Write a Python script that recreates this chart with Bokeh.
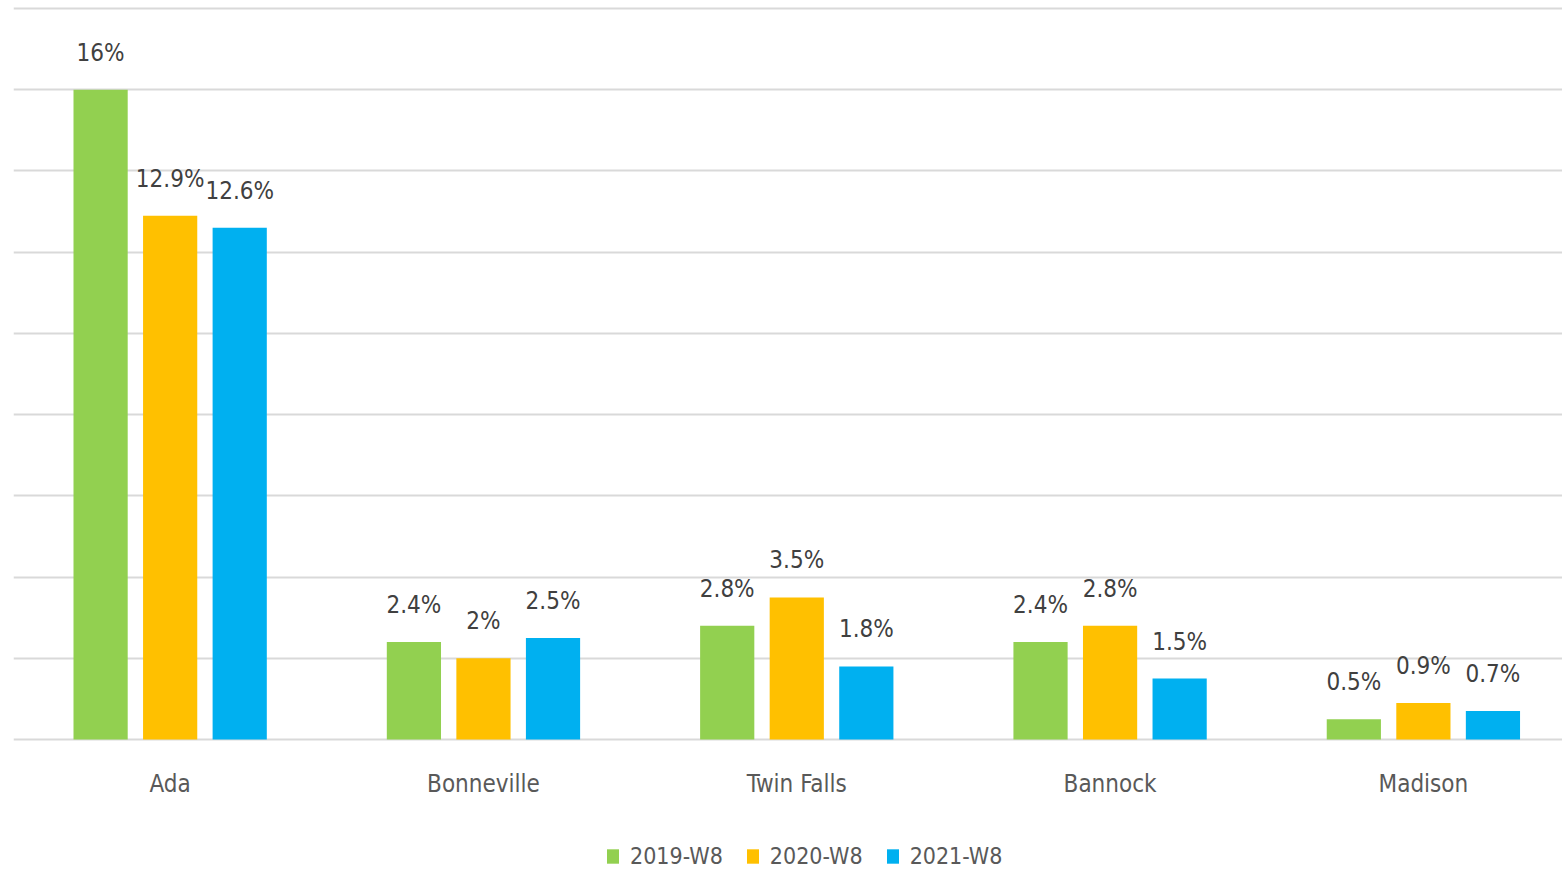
from bokeh.plotting import figure
from bokeh.models import Range1d, FixedTicker, Legend, LegendItem
from bokeh.core.properties import value
from bokeh.embed import file_html
from bokeh.resources import INLINE

counties = ["Ada", "Bonneville", "Twin Falls", "Bannock", "Madison"]
series_names = ["2019-W8", "2020-W8", "2021-W8"]
v2019 = [16, 2.4, 2.8, 2.4, 0.5]
v2020 = [12.9, 2.0, 3.5, 2.8, 0.9]
v2021 = [12.6, 2.5, 1.8, 1.5, 0.7]
grid_ticks = [0, 2, 4, 6, 8, 10, 12, 14, 16, 18]

colors = ["#92D050", "#FFC000", "#00B0F0"]
FONT = "DejaVu Sans Condensed"

# frame extends below the zero line so the category labels and legend sit inside it
p = figure(frame_width=1549, frame_height=863, output_backend="svg", toolbar_location=None,
           x_range=Range1d(0, 4.944), y_range=Range1d(-3.2, 18.05),
           x_axis_location=None, y_axis_location=None,
           min_border_left=13, min_border_right=0, min_border_top=6,
           min_border_bottom=0)
p.outline_line_color = None
p.background_fill_color = "white"
p.border_fill_color = "white"

p.xgrid.visible = False
p.ygrid.ticker = FixedTicker(ticks=grid_ticks)
p.ygrid.grid_line_color = "#d9d9d9"
p.ygrid.grid_line_width = 2

centers = [i + 0.5 for i in range(len(counties))]

# category labels under the zero line
p.text(x=centers, y=[0] * len(centers), text=counties, text_align="center",
       text_baseline="middle", y_offset=44, text_font=value(FONT),
       text_font_size="24px", text_color="#595959")

offsets = [-0.222, 0.0, 0.222]
items = []
for vals, name, col, off in zip([v2019, v2020, v2021], series_names, colors, offsets):
    xs = [c + off for c in centers]
    r = p.vbar(x=xs, top=vals, bottom=0, width=0.173, fill_color=col, line_color=None)
    p.text(x=xs, y=vals, text=[f"{v:g}%" for v in vals], text_align="center",
           text_baseline="middle", y_offset=-37, text_font=value(FONT),
           text_font_size="24px", text_color="#404040")
    items.append(LegendItem(label=name, renderers=[r]))

legend = Legend(items=items, orientation="horizontal", location=(592, 0),
                border_line_color=None, background_fill_alpha=0,
                label_text_font=FONT, label_text_font_size="23px",
                label_text_color="#595959", glyph_width=15, glyph_height=18,
                label_standoff=10, spacing=22, padding=0, margin=0)
p.add_layout(legend, "center")

open("out.html", "w").write(file_html(p, INLINE))
